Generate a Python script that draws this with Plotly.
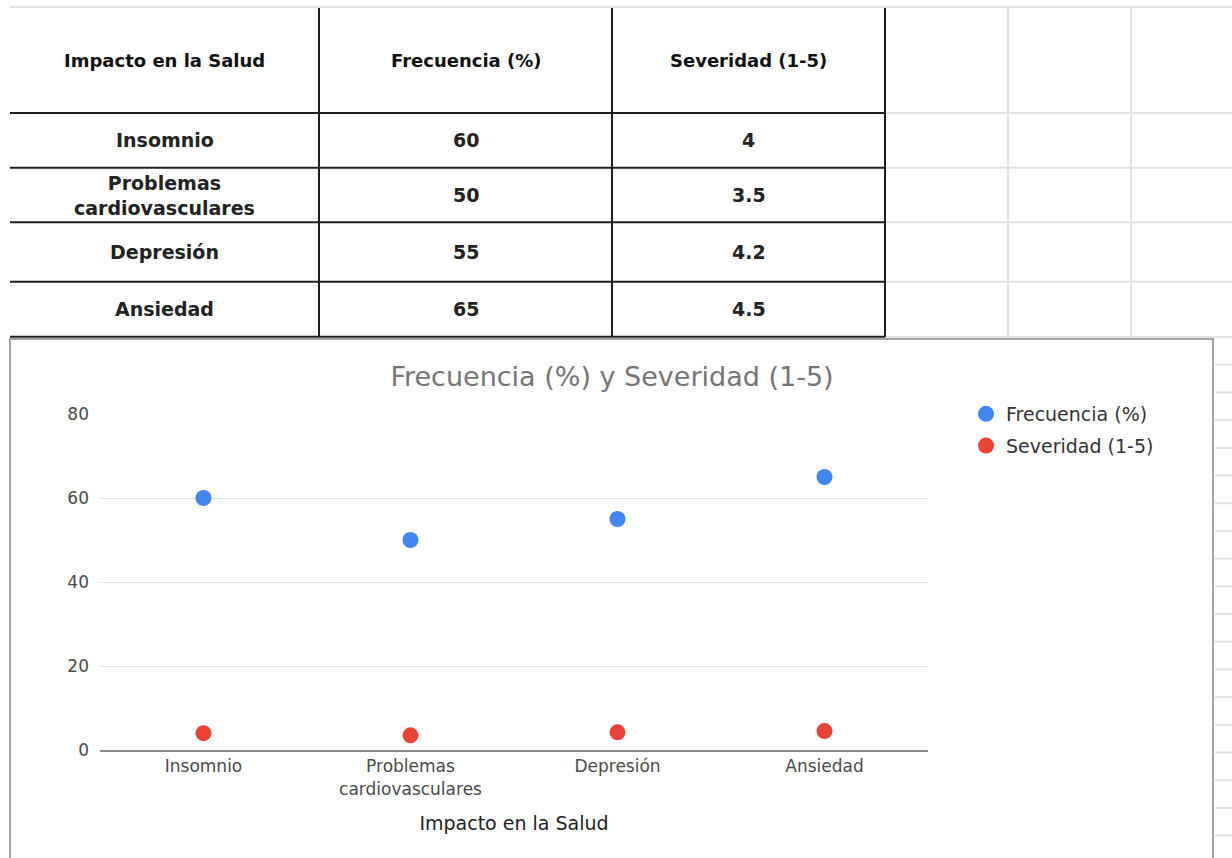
import plotly.graph_objects as go

# Datos de la tabla y del gráfico
categorias = ["Insomnio", "Problemas cardiovasculares", "Depresión", "Ansiedad"]
etiquetas = ["Insomnio", "Problemas<br>cardiovasculares", "Depresión", "Ansiedad"]
frecuencia = [60, 50, 55, 65]
severidad = [4, 3.5, 4.2, 4.5]
encabezados = ["Impacto en la Salud", "Frecuencia (%)", "Severidad (1-5)"]
y_ticks = [0, 20, 40, 60, 80]

W, H = 1232, 858


def px(x):
    return x / W


def py(y):
    return 1 - y / H


AZUL = "#4285F4"
ROJO = "#EA4335"
FUENTE = "DejaVu Sans"

fig = go.Figure()

fig.add_trace(go.Scatter(
    x=categorias, y=frecuencia, mode="markers", name=encabezados[1],
    marker=dict(color=AZUL, size=16), legendgroup="f",
))
fig.add_trace(go.Scatter(
    x=categorias, y=severidad, mode="markers", name=encabezados[2],
    marker=dict(color=ROJO, size=16), legendgroup="s",
))

shapes = []
annotations = []

# Cuadrícula de la hoja de cálculo
GRIS_HOJA = "#e2e2e2"
shapes.append(dict(type="line", xref="paper", yref="paper",
                   x0=px(10), x1=1, y0=py(7), y1=py(7),
                   line=dict(color=GRIS_HOJA, width=2)))
for yy in [113, 167.7, 222.3, 281.7, 337]:
    shapes.append(dict(type="line", xref="paper", yref="paper",
                       x0=px(885), x1=1, y0=py(yy), y1=py(yy),
                       line=dict(color=GRIS_HOJA, width=2)))
for xx in [1008, 1131]:
    shapes.append(dict(type="line", xref="paper", yref="paper",
                       x0=px(xx), x1=px(xx), y0=py(7), y1=py(337),
                       line=dict(color=GRIS_HOJA, width=2)))
yy = 364.7
while yy < H:
    shapes.append(dict(type="line", xref="paper", yref="paper",
                       x0=px(1215), x1=1, y0=py(yy), y1=py(yy),
                       line=dict(color=GRIS_HOJA, width=2)))
    yy += 27.7

# Bordes de la tabla
NEGRO = "#1f1f1f"
for yy in [113, 167.7, 222.3, 281.7, 336.7]:
    shapes.append(dict(type="line", xref="paper", yref="paper",
                       x0=px(10), x1=px(885), y0=py(yy), y1=py(yy),
                       line=dict(color=NEGRO, width=2)))
for xx in [319, 612, 885]:
    shapes.append(dict(type="line", xref="paper", yref="paper",
                       x0=px(xx), x1=px(xx), y0=py(8), y1=py(337),
                       line=dict(color=NEGRO, width=2)))

# Texto de la tabla
col_x = [164.5, 465.5, 748.5]
fila_y = [140, 195, 252, 309]
for cx, t in zip(col_x, encabezados):
    annotations.append(dict(x=px(cx), y=py(61), xref="paper", yref="paper",
                            text=t, showarrow=False, xanchor="center", yanchor="middle",
                            font=dict(family=FUENTE, size=18, color="#111111", weight="bold")))
for i in range(len(categorias)):
    fila = [etiquetas[i], str(frecuencia[i]), str(severidad[i])]
    for cx, t in zip(col_x, fila):
        annotations.append(dict(x=px(cx), y=py(fila_y[i]), xref="paper", yref="paper",
                                text=t, showarrow=False, xanchor="center", yanchor="middle",
                                font=dict(family=FUENTE, size=19, color="#222222", weight="bold"),
                                ))

# Marco del gráfico
shapes.append(dict(type="rect", xref="paper", yref="paper",
                   x0=px(10), x1=px(1213), y0=py(339), y1=py(862),
                   line=dict(color="#a3a3a3", width=2), fillcolor="rgba(0,0,0,0)",
                   layer="below"))

fig.update_layout(
    width=W, height=H,
    autosize=False,
    margin=dict(l=0, r=0, t=0, b=0, pad=0),
    paper_bgcolor="white", plot_bgcolor="white",
    font=dict(family=FUENTE, color="#444444"),
    title=dict(text="Frecuencia (%) y Severidad (1-5)", x=px(612), y=py(377),
               xanchor="center", yanchor="middle", xref="paper", yref="paper",
               automargin=False,
               font=dict(family=FUENTE, size=27, color="#757575")),
    xaxis=dict(domain=[px(100), px(928)], range=[-0.5, 3.5], automargin=False,
               tickmode="array", tickvals=categorias, ticktext=etiquetas,
               showgrid=False, zeroline=False,
               showline=True, linecolor="#8c8c8c", linewidth=2,
               tickfont=dict(family=FUENTE, size=17, color="#4a4a4a"),
               ticks="", ticklabelstandoff=0,
               title=dict(text="Impacto en la Salud", standoff=19,
                          font=dict(family=FUENTE, size=19, color="#222222"))),
    yaxis=dict(domain=[py(750), py(414)], range=[0, 80], automargin=False,
               tickmode="array", tickvals=y_ticks,
               showgrid=True, gridcolor="#e0e0e0", gridwidth=1,
               zeroline=False, showline=False, ticks="",
               ticklabelstandoff=10,
               tickfont=dict(family=FUENTE, size=17, color="#4a4a4a")),
    legend=dict(x=px(966), y=py(395), xanchor="left", yanchor="top",
                font=dict(family=FUENTE, size=19, color="#333333"),
                bgcolor="rgba(0,0,0,0)", tracegroupgap=4),
    showlegend=True,
    shapes=shapes,
    annotations=annotations,
)

fig.write_html("out.html")
